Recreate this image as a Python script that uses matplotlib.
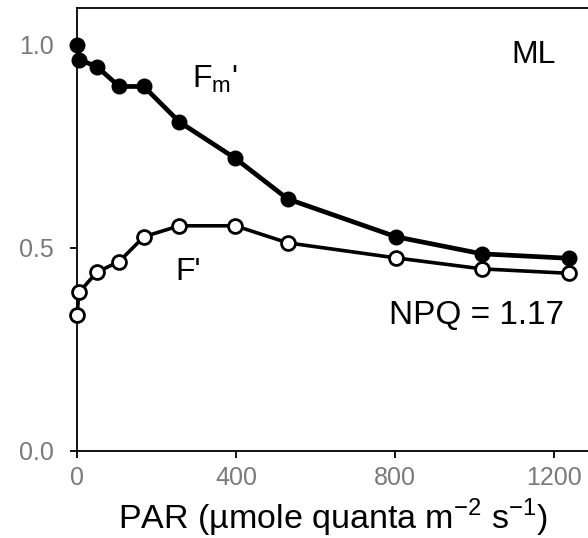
import matplotlib
matplotlib.use("Agg")
from matplotlib import pyplot as plt

# PAR levels (umole quanta m-2 s-1)
par = [0, 5, 50, 106, 168, 257, 398, 530, 802, 1018, 1238]
fm_prime = [1.0, 0.963, 0.946, 0.897, 0.897, 0.81, 0.72, 0.62, 0.527, 0.485, 0.474]
f_prime = [0.335, 0.39, 0.44, 0.466, 0.527, 0.554, 0.554, 0.512, 0.475, 0.448, 0.437]

plt.rcParams['font.family'] = ['Liberation Sans', 'DejaVu Sans']
plt.rcParams['axes.unicode_minus'] = False

fig = plt.figure(figsize=(5.88, 5.38), dpi=100)
ax = fig.add_axes([0.131, 0.162, 0.869, 0.823])

ax.plot(par, fm_prime, color="black", lw=3.4, marker="o", ms=10,
        mfc="black", mec="black", mew=1.5, clip_on=False, zorder=3)
ax.plot(par, f_prime, color="black", lw=2.6, marker="o", ms=10,
        mfc="white", mec="black", mew=2.0, clip_on=False, zorder=3)

ax.set_xlim(0, 1285)
ax.set_ylim(0, 1.09)
ax.set_xticks([0, 400, 800, 1200])
ax.set_yticks([0.0, 0.5, 1.0])
ax.set_yticklabels(["0.0", "0.5", "1.0"])

ax.spines["right"].set_visible(False)
for s in ["left", "top", "bottom"]:
    ax.spines[s].set_linewidth(1.3)

ax.tick_params(axis="both", direction="out", length=5, width=1.3,
               labelsize=18, labelcolor="#7a7a7a")
ax.tick_params(axis="y", pad=12)
ax.tick_params(axis="x", pad=6)

ax.set_xlabel(r"PAR (µmole quanta m$^{\mathregular{-2}}$ s$^{\mathregular{-1}}$)",
              fontsize=24.5, labelpad=5)

ax.text(347, 0.915, r"F$_{\mathregular{m}}$'", fontsize=23, ha="center", va="center")
ax.text(280, 0.44, "F'", fontsize=23, ha="center", va="center")
ax.text(1147, 0.975, "ML", fontsize=23, ha="center", va="center")
ax.text(1004, 0.332, "NPQ = 1.17", fontsize=24, ha="center", va="center")

fig.savefig("out.png", dpi=100)
